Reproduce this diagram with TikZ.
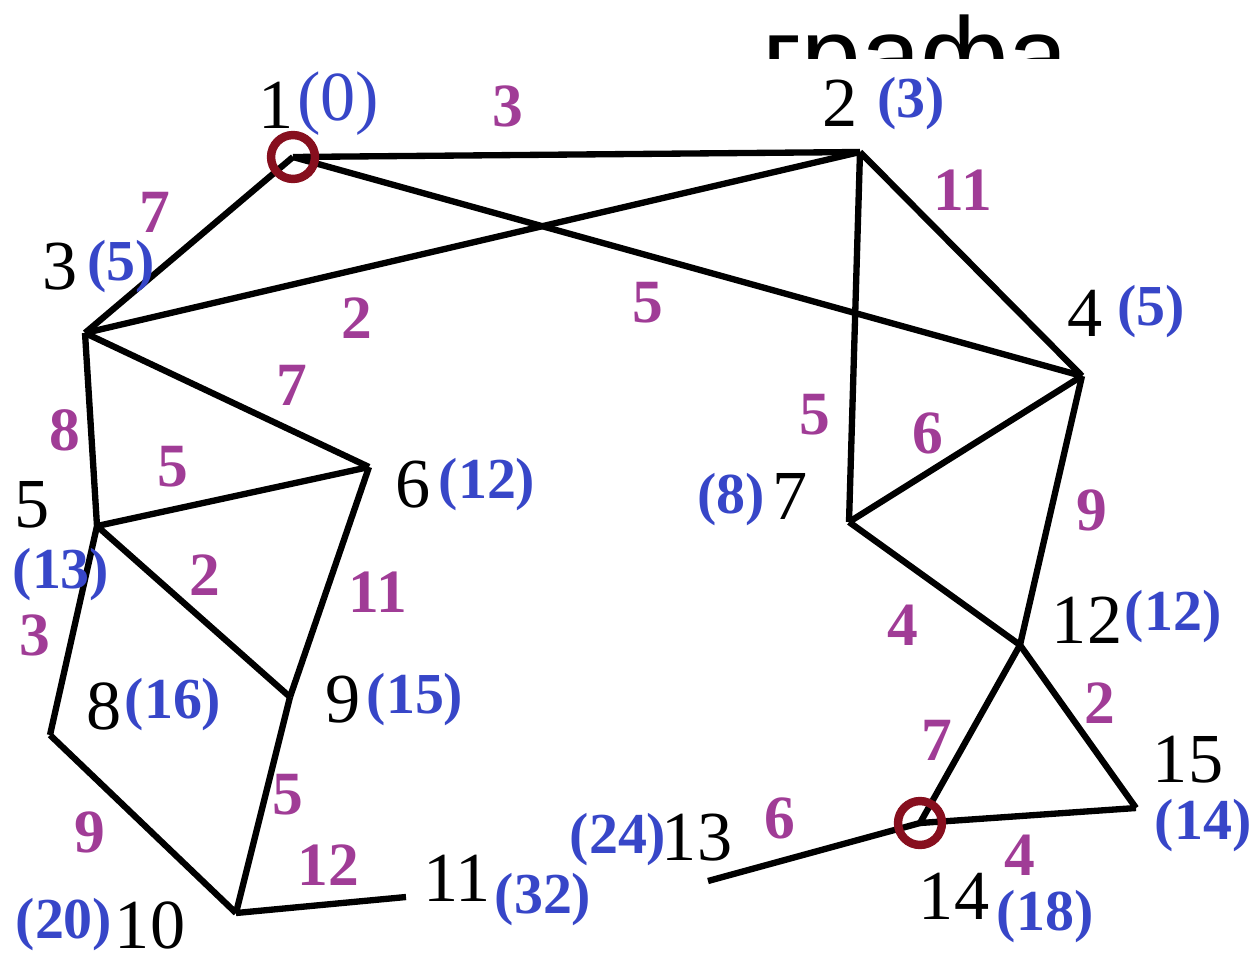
\documentclass[tikz,border=0pt]{standalone}
\usepackage{fontspec}
\setmainfont{Liberation Serif}
\newfontfamily\titlefont{Liberation Sans}
\usepackage{xcolor}
\usepackage{tikz}
\definecolor{distblue}{RGB}{55,70,200}
\definecolor{wtpurple}{RGB}{160,60,150}
\definecolor{ringred}{RGB}{135,15,30}

\begin{document}
\begin{tikzpicture}[x=0.02cm,y=-0.02cm,line join=round,
  gline/.style={line width=3.6pt},
  ring/.style={draw=ringred,line width=4.8pt},
  vnum/.style={inner sep=0pt,font=\fontsize{40}{40}\selectfont},
  vdist/.style={inner sep=0pt,text=distblue,font=\fontsize{33}{33}\selectfont\bfseries},
  wt/.style={inner sep=0pt,text=wtpurple,font=\fontsize{35}{35}\selectfont\bfseries}]
  \useasboundingbox (0,0) rectangle (1253,960);
  \coordinate (V1) at (293,157);
  \coordinate (V2) at (860,152);
  \coordinate (V3) at (85,333);
  \coordinate (V4) at (1082,376);
  \coordinate (V5) at (97,526);
  \coordinate (V6) at (369,467);
  \coordinate (V7) at (849,522);
  \coordinate (V8) at (50,735);
  \coordinate (V9) at (290,697);
  \coordinate (V10) at (236,913);
  \coordinate (V11) at (406,897);
  \coordinate (V12) at (1020,645);
  \coordinate (V13) at (708,881);
  \coordinate (V14) at (920,823);
  \coordinate (V15) at (1136,808);
  % title, cut off at the top
  \begin{scope}
    \clip (0,0) rectangle (1253,58);
    \node[anchor=base west,inner sep=0pt,font=\titlefont\fontsize{61}{61}\selectfont] (T) at (762,92) {графа};
  \end{scope}
  % edges
  \draw[gline] (V1) -- (V2);
  \draw[gline] (V1) -- (V3);
  \draw[gline] (V1) -- (V4);
  \draw[gline] (V2) -- (V3);
  \draw[gline] (V2) -- (V4);
  \draw[gline] (V2) -- (V7);
  \draw[gline] (V3) -- (V5);
  \draw[gline] (V3) -- (V6);
  \draw[gline] (V4) -- (V7);
  \draw[gline] (V4) -- (V12);
  \draw[gline] (V5) -- (V6);
  \draw[gline] (V5) -- (V9);
  \draw[gline] (V5) -- (V8);
  \draw[gline] (V6) -- (V9);
  \draw[gline] (V8) -- (V10);
  \draw[gline] (V9) -- (V10);
  \draw[gline] (V10) -- (V11);
  \draw[gline] (V7) -- (V12);
  \draw[gline] (V12) -- (V14);
  \draw[gline] (V12) -- (V15);
  \draw[gline] (V14) -- (V15);
  \draw[gline] (V13) -- (V14);
  \draw[ring] (V1) circle (12.5pt);
  \draw[ring] (V14) circle (12.5pt);
  % vertex numbers
  \node[vnum] (N1) at (276,105) {1};
  \node[vnum] (N2) at (840,103) {2};
  \node[vnum] (N3) at (60,267) {3};
  \node[vnum] (N4) at (1085,313) {4};
  \node[vnum] (N5) at (32,505) {5};
  \node[vnum] (N6) at (413,485) {6};
  \node[vnum] (N7) at (790,496) {7};
  \node[vnum] (N8) at (104,706) {8};
  \node[vnum] (N9) at (343,700) {9};
  \node[vnum] (N10) at (150,925) {10};
  \node[vnum] (N11) at (457,878) {11};
  \node[vnum] (N12) at (1087,620) {12};
  \node[vnum] (N13) at (697,838) {13};
  \node[vnum] (N14) at (954,896) {14};
  \node[vnum] (N15) at (1188,760) {15};
  % distances
  \node[vdist,font=\fontsize{40}{40}\selectfont] (D1) at (338,104) {(0)};
  \node[vdist] (D2) at (911,104) {(3)};
  \node[vdist] (D3) at (121,267) {(5)};
  \node[vdist] (D4) at (1151,312) {(5)};
  \node[vdist] (D5) at (61,575) {(13)};
  \node[vdist] (D6) at (487,485) {(12)};
  \node[vdist] (D7) at (731,500) {(8)};
  \node[vdist] (D8) at (173,705) {(16)};
  \node[vdist] (D9) at (415,700) {(15)};
  \node[vdist] (D10) at (64,925) {(20)};
  \node[vdist] (D11) at (543,900) {(32)};
  \node[vdist] (D12) at (1173,617) {(12)};
  \node[vdist] (D13) at (618,840) {(24)};
  \node[vdist] (D14) at (1045,917) {(18)};
  \node[vdist] (D15) at (1203,826) {(14)};
  % weights
  \node[wt] (W12) at (508,106) {3};
  \node[wt] (W13) at (155,212) {7};
  \node[wt] (W14) at (648,303) {5};
  \node[wt] (W23) at (357,318) {2};
  \node[wt] (W24) at (963,190) {11};
  \node[wt] (W27) at (815,415) {5};
  \node[wt] (W35) at (65,430) {8};
  \node[wt] (W36) at (292,385) {7};
  \node[wt] (W47) at (928,433) {6};
  \node[wt] (W412) at (1092,510) {9};
  \node[wt] (W56) at (173,467) {5};
  \node[wt] (W59) at (205,575) {2};
  \node[wt] (W58) at (35,635) {3};
  \node[wt] (W69) at (378,592) {11};
  \node[wt] (W810) at (90,832) {9};
  \node[wt] (W910) at (288,795) {5};
  \node[wt] (W1011) at (328,865) {12};
  \node[wt] (W712) at (903,625) {4};
  \node[wt] (W1214) at (937,740) {7};
  \node[wt] (W1215) at (1100,703) {2};
  \node[wt] (W1415) at (1020,855) {4};
  \node[wt] (W1314) at (780,818) {6};
\end{tikzpicture}
\end{document}
